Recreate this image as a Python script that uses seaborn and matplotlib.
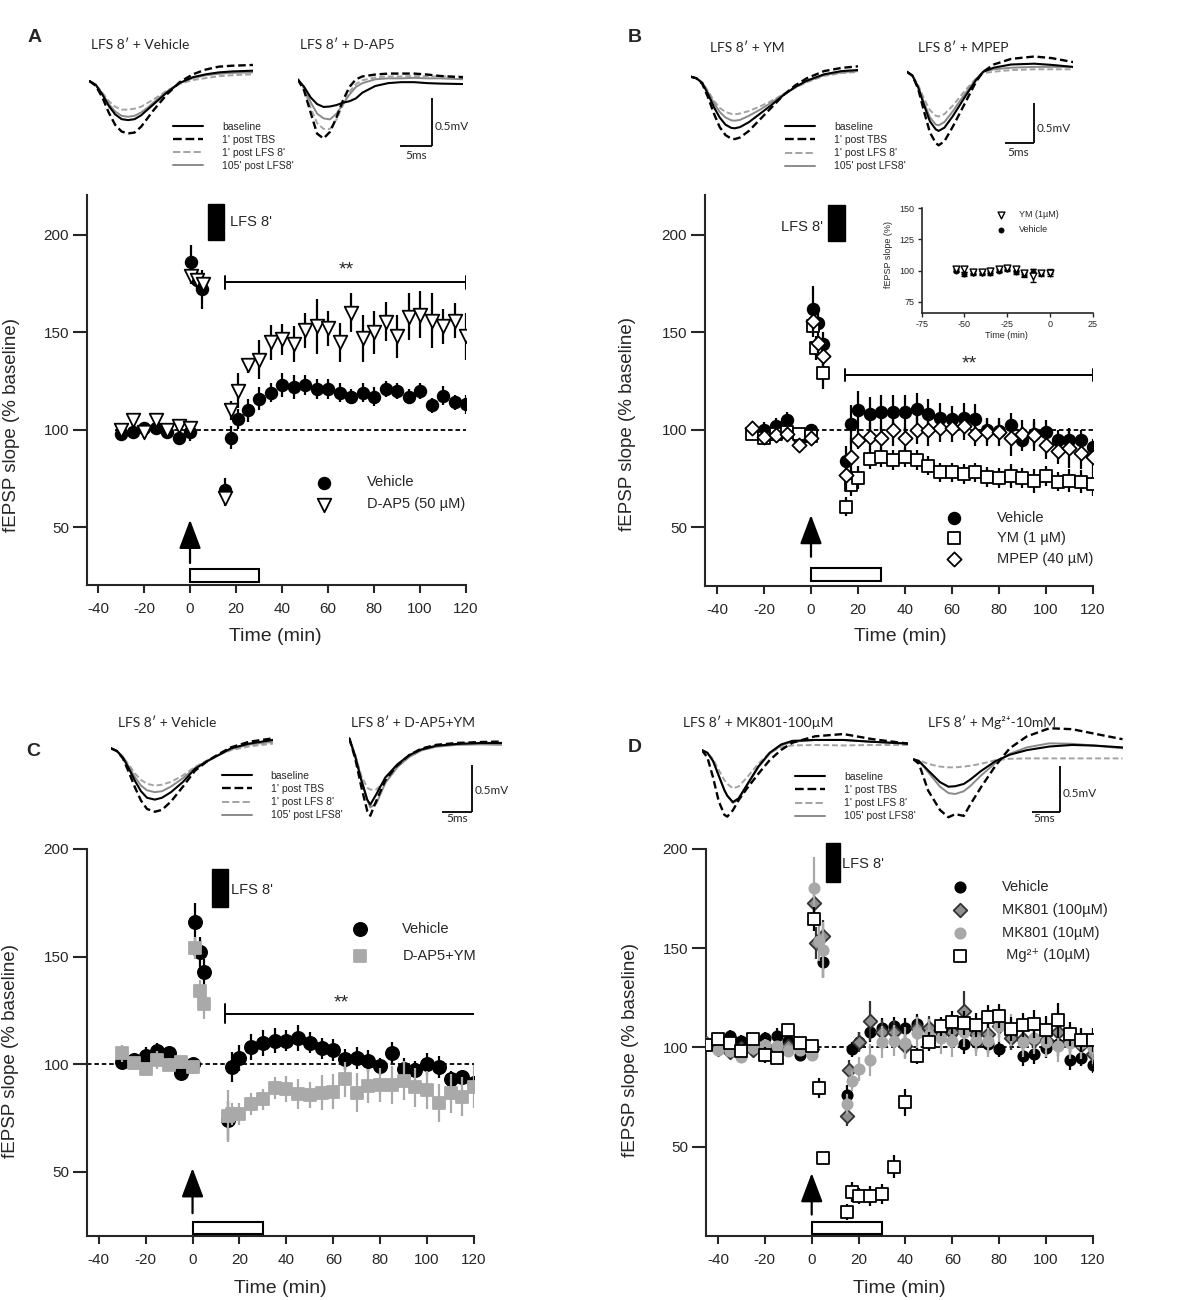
import matplotlib
matplotlib.use('Agg')
import matplotlib.pyplot as plt
import seaborn as sns
from matplotlib.patches import Rectangle
from matplotlib.lines import Line2D
from matplotlib.legend import Legend

# ------------------------------------------------------------------ data
# Panel A
tA_veh = [-30, -25, -20, -15, -10, -5, 0, 0.5, 3, 5, 15, 18, 21, 25, 30, 35, 40, 45, 50, 55, 60,
          65, 70, 75, 80, 85, 90, 95, 100, 105, 110, 115, 120]
yA_veh = [98, 99, 101, 101, 99, 96, 99, 186, 177, 172, 69, 96, 105.5, 110, 116, 119, 123, 122, 123,
          121, 121, 119, 117, 119, 117, 121, 120, 117, 120, 112.5, 117.5, 114, 113]
eA_veh = [3, 4, 3, 3, 4, 3, 5, 9, 5, 10, 6, 6, 5, 6, 6, 5, 6, 6, 5, 5, 5, 5, 4, 5, 5, 4, 4, 4, 4, 4, 5, 4, 5]
tA_ap5 = [-30, -25, -20, -15, -10, -5, 0, 0.5, 3, 5.5, 15, 18, 21, 25, 30, 35, 40, 45, 50, 55, 60,
          65, 70, 75, 80, 85, 90, 95, 100, 105, 110, 115, 120]
yA_ap5 = [100, 105, 99, 105, 100, 102, 101, 179, 177, 175, 65, 110, 120, 133, 136, 145, 146.5, 144,
          151, 153, 152, 145, 160, 147, 150, 155.5, 148, 158, 159, 156, 153, 156, 148]
eA_ap5 = [2, 3, 3, 2, 3, 3, 3, 4, 4, 4, 4, 5, 9, 4, 10, 9, 8, 9, 9, 14, 9, 10, 10, 12, 11, 10, 11, 12,
          12, 14, 9, 9, 12]

# Panel B
tB = [-25, -20, -15, -10, -5, 0, 1, 3, 5, 15, 17, 20, 25, 30, 35, 40, 45, 50, 55, 60, 65, 70, 75,
      80, 85, 90, 95, 100, 105, 110, 115, 120]
yB_veh = [99, 100, 102, 105, 96, 100, 162, 155, 144, 84, 103, 110, 108, 109, 109, 109, 111, 108, 106,
          105.5, 106, 105.5, 100, 99.7, 102.6, 95, 98, 99, 95, 95, 95, 91.5]
eB_veh = [4, 4, 4, 4, 4, 3, 12, 6, 6, 8, 10, 10, 9, 9, 9, 9, 8, 8, 8, 7, 8, 8, 6, 5, 6, 6, 6, 6, 5, 6, 5, 4]
tB_ym = [-25, -20, -15, -10, -5, 0, 1, 2, 5, 15, 17, 20, 25, 30, 35, 40, 45, 50, 55, 60, 65, 70, 75,
         80, 85, 90, 95, 100, 105, 110, 115, 120]
yB_ym = [98, 96, 98, 99, 98, 97, 153.5, 142, 129, 60.7, 72, 75.5, 85, 86, 84.6, 86, 84.6, 81.7, 78.3,
         78.3, 77.4, 78.3, 76, 75.5, 76.4, 75.5, 73.8, 76.4, 73.5, 74, 73.5, 72.3]
eB_ym = [3, 3, 3, 3, 3, 3, 6, 6, 8, 5, 6, 6, 5, 5, 5, 5, 5, 5, 5, 5, 5, 5, 5, 5, 6, 5, 6, 5, 5, 6, 6, 6]
yB_mpep = [101, 96.6, 97.4, 98, 92.3, 96, 156, 144.4, 138, 77, 86, 95, 96.6, 95.7, 100, 95.7, 100, 100,
           101, 101, 102, 98, 99, 99, 95.7, 98, 97.4, 92.3, 89.4, 90.6, 88, 86]
eB_mpep = [3, 3, 3, 3, 3, 3, 5, 5, 5, 8, 10, 5, 7, 6, 8, 6, 7, 8, 7, 7, 7, 6, 7, 7, 9, 7, 8, 7, 7, 10, 8, 8]
# Panel B inset
tIn = [-55, -50, -45, -40, -35, -30, -25, -20, -15, -10, -5, 0]
yIn_ym = [101, 101, 99, 99, 100, 101, 102, 101, 98, 96, 98, 98]
eIn_ym = [1.5, 2, 1.5, 1.5, 2, 2, 1.5, 1.5, 2, 5, 2, 2]
yIn_veh = [100, 97.5, 98, 98, 98, 100, 101, 99, 97, 99, 98, 99]
eIn_veh = [1.5, 1.5, 1.5, 1.5, 1.5, 1.5, 1.5, 1.5, 2, 2, 1.5, 2]

# Panel C
tC = [-30, -25, -20, -15, -10, -5, 0, 1, 3, 5, 15, 17, 20, 25, 30, 35, 40, 45, 50, 55, 60, 65, 70,
      75, 80, 85, 90, 95, 100, 105, 110, 115, 120]
yC_veh = [101, 102, 104, 106, 105.4, 96, 100, 166, 152, 143, 74, 98.6, 103, 108, 110, 111, 111, 112,
          110, 107.4, 106.7, 102.3, 102.8, 101.5, 99, 105.4, 98, 97.4, 100, 98.6, 93, 94.3, 91.2]
eC_veh = [3, 3, 4, 4, 3, 2, 2, 9, 7, 6, 9, 7, 6, 6, 6, 6, 5, 6, 5, 5, 5, 5, 5, 5, 4, 5, 5, 4, 5, 5, 4, 3, 3]
yC_ap5ym = [105, 100.5, 97.7, 102, 99.7, 101, 98.6, 154, 134, 128, 76, 77, 77, 81.6, 83.7, 88.9, 88.4,
            86, 85.8, 86.8, 87.3, 93, 86.8, 90, 90.4, 90.4, 92.4, 89.2, 88, 82, 86.5, 85, 89.6]
eC_ap5ym = [4, 3, 3, 4, 3, 3, 3, 5, 5, 7, 12, 5, 5, 5, 5, 5, 6, 7, 6, 8, 8, 8, 9, 8, 8, 9, 9, 9, 9, 9,
            9, 9, 10]

# Panel D
tD_veh = [-45, -40, -35, -30, -25, -20, -15, -10, -5, 0, 5, 15, 17, 20, 25, 30, 35, 40, 45, 50, 55,
          60, 65, 70, 75, 80, 85, 90, 95, 100, 105, 110, 115, 120]
yD_veh = [101, 103, 106, 103.5, 104, 105, 106, 103.5, 96, 100.8, 143, 76, 99, 103, 108, 110, 110.6,
          110, 112, 109, 108, 107.7, 101.7, 102.7, 101.7, 99.3, 106.4, 95.5, 96.8, 99.7, 101.7, 93.5,
          94.6, 91.3]
eD_veh = [2, 3, 3, 3, 3, 3, 4, 3, 3, 3, 8, 5, 4, 5, 5, 5, 5, 5, 5, 5, 5, 5, 5, 5, 5, 4, 4, 5, 5, 5, 6,
          5, 4, 4]
tD_mk100 = [-45, -40, -35, -30, -25, -20, -15, -10, -5, 0, 1, 2, 5, 15, 16, 20, 25, 30, 35, 40, 45,
            50, 55, 60, 65, 70, 75, 80, 85, 90, 95, 100, 105, 110, 115, 120]
yD_mk100 = [102, 99, 97.5, 99.7, 98.5, 100.5, 99.7, 100.5, 100.5, 99.3, 172.6, 152.5, 156, 65.3, 88.8,
            102.7, 113.4, 107.7, 108, 100.5, 109.7, 110, 108.4, 107.7, 118.5, 107, 107, 110.6, 104.7,
            104.2, 103.9, 103.9, 108, 103.9, 101.3, 96.8]
eD_mk100 = [2, 3, 3, 3, 3, 3, 3, 3, 3, 3, 8, 8, 8, 5, 5, 5, 10, 6, 6, 6, 6, 6, 6, 6, 10, 6, 6, 6, 6, 6,
            6, 6, 6, 6, 6, 6]
tD_mk10 = [-45, -40, -35, -30, -25, -20, -15, -10, -5, 0, 1, 3, 5, 15, 17, 20, 25, 30, 35, 40, 45, 50,
           55, 60, 65, 70, 75, 80, 85, 90, 95, 100, 105, 110, 115, 120]
yD_mk10 = [102, 98.5, 98, 95, 99.7, 101.3, 100.5, 98, 98.8, 96, 180.2, 153.4, 149, 71.6, 83, 89, 93.8,
           102.7, 103.5, 102.2, 107.2, 106.4, 104.7, 103.4, 108, 103.9, 103.4, 110.6, 108.9, 103,
           104.7, 103, 100.5, 102, 102, 99.7]
eD_mk10 = [2, 3, 3, 3, 3, 3, 3, 3, 3, 3, 16, 10, 14, 5, 5, 6, 8, 8, 8, 8, 8, 8, 8, 8, 8, 8, 8, 8, 8, 8,
           8, 8, 8, 8, 8, 8]
tD_mg = [-45, -40, -35, -30, -25, -20, -15, -10, -5, 0, 1, 3, 5, 15, 17, 20, 25, 30, 35, 40, 45, 50,
         55, 60, 65, 70, 75, 80, 85, 90, 95, 100, 105, 110, 115, 120]
yD_mg = [101.3, 104.4, 102.2, 98, 104.2, 96.3, 94.6, 108.9, 102.5, 100.5, 164.6, 79.5, 44.3, 17, 27,
         25, 25.3, 26.2, 40, 72.3, 95.5, 103, 110.6, 112.6, 112.2, 111.4, 115.6, 116, 109.2, 111.4,
         112, 108.9, 113.6, 106.9, 103.9, 103.9]
eD_mg = [2, 3, 3, 3, 3, 4, 3, 3, 3, 3, 6, 5, 3, 4, 5, 4, 5, 5, 6, 7, 4, 5, 5, 6, 6, 6, 6, 6, 6, 6, 7,
         7, 9, 6, 6, 6]

# Example fEPSP traces (ms, mV relative to start); order: baseline, 1' TBS, 1' LFS, 105' LFS
trace_labels = ["baseline", "1' post TBS", "1' post LFS 8'", "105' post LFS8'"]
tr_A1_t = [0, 1, 2, 3, 4, 5, 6, 7, 8, 9, 10, 12, 14, 16, 18, 20, 22, 25.3]
tr_A1 = [[0, -0.04, -0.14, -0.26, -0.35, -0.40, -0.41, -0.40, -0.36, -0.30, -0.24, -0.12, -0.02, 0.04, 0.07, 0.09, 0.10, 0.108],
         [0, -0.05, -0.17, -0.33, -0.46, -0.53, -0.55, -0.54, -0.48, -0.39, -0.30, -0.14, -0.01, 0.07, 0.12, 0.15, 0.16, 0.168],
         [0, -0.04, -0.12, -0.21, -0.27, -0.30, -0.30, -0.29, -0.27, -0.23, -0.19, -0.10, -0.03, 0.01, 0.03, 0.05, 0.06, 0.07],
         [0, -0.04, -0.13, -0.24, -0.32, -0.365, -0.375, -0.365, -0.33, -0.28, -0.22, -0.11, -0.02, 0.03, 0.06, 0.075, 0.085, 0.09]]
tr_A2_t = [0, 1, 2, 3, 4, 5, 6, 7, 8, 9, 10, 12, 14, 16, 18, 20, 22, 25.6]
tr_A2 = [[0, -0.08, -0.19, -0.26, -0.29, -0.285, -0.27, -0.245, -0.23, -0.2, -0.14, -0.07, -0.04, -0.03, -0.03, -0.04, -0.045, -0.05],
         [0, -0.12, -0.35, -0.57, -0.62, -0.55, -0.40, -0.22, -0.08, 0.0, 0.03, 0.05, 0.06, 0.06, 0.06, 0.05, 0.035, 0.02],
         [0, -0.1, -0.3, -0.46, -0.52, -0.52, -0.42, -0.27, -0.13, -0.05, -0.01, 0.02, 0.03, 0.03, 0.035, 0.03, 0.03, 0.03],
         [0, -0.09, -0.24, -0.36, -0.41, -0.42, -0.36, -0.26, -0.16, -0.08, -0.04, 0.0, 0.01, 0.01, 0.015, 0.01, 0.01, 0.0]]
tr_B1_t = [0, 1, 2, 3, 4, 5, 6, 7, 7.6, 8.5, 10, 12, 14, 16, 18, 20, 23, 26, 28.9]
tr_B1 = [[0, -0.02, -0.08, -0.22, -0.38, -0.51, -0.60, -0.64, -0.645, -0.63, -0.57, -0.46, -0.35, -0.23, -0.13, -0.05, 0.03, 0.07, 0.084],
         [0, -0.02, -0.09, -0.26, -0.46, -0.63, -0.73, -0.775, -0.78, -0.76, -0.68, -0.53, -0.38, -0.23, -0.11, -0.02, 0.07, 0.11, 0.13],
         [0, -0.02, -0.07, -0.18, -0.30, -0.39, -0.44, -0.465, -0.47, -0.46, -0.43, -0.37, -0.30, -0.22, -0.14, -0.07, 0.01, 0.045, 0.06],
         [0, -0.02, -0.075, -0.2, -0.33, -0.44, -0.51, -0.545, -0.55, -0.54, -0.49, -0.41, -0.32, -0.22, -0.13, -0.06, 0.02, 0.055, 0.07]]
tr_B2_t = [0, 1, 2, 3, 4, 5, 5.5, 6.5, 8, 10, 12, 13.2, 15, 18, 22, 25, 28.7]
tr_B2 = [[0, -0.05, -0.2, -0.42, -0.62, -0.72, -0.74, -0.70, -0.55, -0.32, -0.1, 0.0, 0.05, 0.09, 0.10, 0.085, 0.06],
         [0, -0.05, -0.22, -0.5, -0.76, -0.89, -0.92, -0.87, -0.68, -0.40, -0.12, 0.0, 0.09, 0.16, 0.19, 0.17, 0.12],
         [0, -0.05, -0.17, -0.34, -0.48, -0.55, -0.56, -0.53, -0.42, -0.24, -0.08, -0.02, 0.0, 0.02, 0.03, 0.03, 0.03],
         [0, -0.05, -0.19, -0.39, -0.57, -0.66, -0.67, -0.63, -0.49, -0.28, -0.09, 0.0, 0.03, 0.05, 0.06, 0.06, 0.06]]
tr_C1_t = [0, 1, 2, 3, 4, 5, 6, 7.3, 8.5, 10, 12, 14, 16, 18, 20, 23, 27]
tr_C1 = [[0, -0.03, -0.1, -0.22, -0.35, -0.46, -0.53, -0.55, -0.53, -0.47, -0.36, -0.22, -0.14, -0.07, 0.0, 0.05, 0.09],
         [0, -0.03, -0.11, -0.26, -0.42, -0.56, -0.65, -0.68, -0.66, -0.57, -0.41, -0.24, -0.14, -0.06, 0.01, 0.07, 0.107],
         [0, -0.03, -0.09, -0.18, -0.27, -0.34, -0.38, -0.40, -0.39, -0.36, -0.29, -0.2, -0.13, -0.07, -0.02, 0.02, 0.05],
         [0, -0.03, -0.095, -0.2, -0.31, -0.4, -0.45, -0.47, -0.46, -0.41, -0.32, -0.21, -0.135, -0.07, -0.01, 0.04, 0.07]]
tr_C2_t = [0, 1, 2, 3, 3.5, 4.5, 6, 8, 10, 12, 14.5, 18, 22, 25.4]
tr_C2 = [[0, -0.2, -0.45, -0.66, -0.71, -0.6, -0.42, -0.28, -0.18, -0.12, -0.08, -0.06, -0.05, -0.05],
         [0, -0.22, -0.52, -0.78, -0.83, -0.67, -0.45, -0.29, -0.18, -0.11, -0.07, -0.05, -0.04, -0.035],
         [0, -0.18, -0.4, -0.53, -0.55, -0.55, -0.45, -0.3, -0.19, -0.12, -0.08, -0.06, -0.055, -0.05],
         [0, -0.18, -0.43, -0.66, -0.74, -0.70, -0.48, -0.31, -0.2, -0.13, -0.09, -0.07, -0.065, -0.07]]
tr_D1_t = [0, 1, 2, 3, 4, 4.5, 5.5, 6.5, 8, 10, 12, 14, 16, 20, 25, 30, 36.4]
tr_D1 = [[0, -0.03, -0.12, -0.28, -0.44, -0.5, -0.57, -0.53, -0.38, -0.18, -0.03, 0.06, 0.1, 0.11, 0.11, 0.09, 0.07],
         [0, -0.08, -0.3, -0.56, -0.71, -0.73, -0.66, -0.55, -0.42, -0.26, -0.11, 0.0, 0.08, 0.15, 0.175, 0.12, 0.07],
         [0, -0.03, -0.1, -0.22, -0.33, -0.37, -0.42, -0.4, -0.3, -0.15, -0.03, 0.03, 0.05, 0.055, 0.05, 0.055, 0.055],
         [0, -0.03, -0.12, -0.28, -0.44, -0.5, -0.58, -0.54, -0.39, -0.19, -0.04, 0.05, 0.09, 0.11, 0.11, 0.09, 0.07]]
tr_D2_t = [0, 1, 2.6, 4.7, 6.2, 7.4, 8.9, 10.1, 11.9, 14.5, 17, 20, 24, 28, 32, 36.9]
tr_D2 = [[0, -0.02, -0.12, -0.25, -0.30, -0.295, -0.27, -0.22, -0.13, -0.02, 0.05, 0.1, 0.14, 0.157, 0.15, 0.13],
         [0, -0.05, -0.34, -0.555, -0.635, -0.6, -0.62, -0.49, -0.31, -0.07, 0.12, 0.25, 0.34, 0.33, 0.28, 0.22],
         [0, -0.01, -0.05, -0.08, -0.088, -0.088, -0.08, -0.07, -0.05, -0.01, 0.005, 0.01, 0.01, 0.01, 0.01, 0.01],
         [0, -0.02, -0.14, -0.3, -0.37, -0.38, -0.35, -0.29, -0.18, -0.04, 0.06, 0.13, 0.175, 0.17, 0.15, 0.12]]

# ------------------------------------------------------------------ style
sns.set_theme(style='ticks')
plt.rcParams['font.family'] = ['Liberation Sans', 'DejaVu Sans']
plt.rcParams['axes.unicode_minus'] = False
TITLE_FAM = ['Lato', 'Liberation Sans', 'DejaVu Sans']
NARROW_FAM = ['Liberation Sans Narrow', 'Liberation Sans', 'DejaVu Sans']

W, H = 1182, 1300
fig = plt.figure(figsize=(W / 100, H / 100), dpi=100)
fig.patch.set_facecolor('white')


def px_axes(l, t, r, b):
    return fig.add_axes([l / W, 1 - b / H, (r - l) / W, (b - t) / H])


ax0 = px_axes(0, 0, W, H)
ax0.set_xlim(0, W)
ax0.set_ylim(H, 0)
ax0.set_axis_off()

TR_STY = [dict(color='black', lw=1.5, ls='-', zorder=4),
          dict(color='black', lw=1.7, ls=(0, (3.2, 1.6)), zorder=5),
          dict(color='#a3a3a3', lw=1.4, ls=(0, (3, 1.5)), zorder=2),
          dict(color='#8a8a8a', lw=1.4, ls='-', zorder=3)]


def trace_axes(x0, y0, pms, pmv, tt, curves):
    dur = tt[-1]
    ax = px_axes(x0, y0 - 0.6 * pmv, x0 + dur * pms, y0 + 1.1 * pmv)
    ax.set_xlim(0, dur)
    ax.set_ylim(-1.1, 0.6)
    ax.set_axis_off()
    lines = []
    for vals, st in zip(curves, TR_STY):
        ln, = ax.plot(tt, vals, solid_capstyle='round', **st)
        lines.append(ln)
    return lines


def trace_legend(lines, x, y):
    handles = [Line2D([], [], color=l.get_color(), lw=l.get_linewidth(), ls=l.get_linestyle()) for l in lines]
    leg = Legend(ax0, handles, trace_labels, loc='upper left', bbox_to_anchor=(x, y),
                 bbox_transform=ax0.transData, frameon=False, handlelength=2.9,
                 handletextpad=1.8, labelspacing=0.3, borderpad=0, borderaxespad=0,
                 prop=dict(family=NARROW_FAM, size=7.5))
    ax0.add_artist(leg)


def scale_bar(xv, yb, pms, pmv, tx_mv, ty_mv, tx_ms, ty_ms):
    ax0.plot([xv, xv], [yb - 0.5 * pmv, yb], color='black', lw=1.3, solid_capstyle='butt')
    ax0.plot([xv - 5 * pms, xv], [yb, yb], color='black', lw=1.3, solid_capstyle='butt')
    ax0.text(tx_mv, ty_mv, '0.5mV', ha='left', va='center', fontsize=8.5, family=TITLE_FAM)
    ax0.text(tx_ms, ty_ms, '5ms', ha='center', va='center', fontsize=8.5, family=TITLE_FAM)


def title(x, y, s):
    ax0.text(x, y, s, ha='center', va='center', fontsize=10, family=TITLE_FAM)


def letter(x, y, s):
    ax0.text(x, y, s, ha='center', va='center', fontsize=14, fontweight='bold')


# ---- traces
lA = trace_axes(89.3, 81, 6.47, 95.4, tr_A1_t, tr_A1)
trace_axes(297.7, 79.3, 6.47, 95.4, tr_A2_t, tr_A2)
trace_legend(lA, 173, 121.5)
scale_bar(432.3, 146, 6.47, 95.4, 435, 127, 416.5, 155.5)
title(140, 45, 'LFS 8\u2032 + Vehicle'); title(347, 45, 'LFS 8\u2032 + D-AP5'); letter(35, 38, 'A')

lB = trace_axes(690.7, 76.7, 5.8, 80, tr_B1_t, tr_B1)
trace_axes(906.7, 71.7, 5.8, 80, tr_B2_t, tr_B2)
trace_legend(lB, 785, 122)
scale_bar(1034, 143.3, 5.8, 80, 1037, 128.5, 1018.5, 153)
title(747, 48, 'LFS 8\u2032 + YM'); title(963, 48, 'LFS 8\u2032 + MPEP'); letter(635, 38, 'B')

lC = trace_axes(111, 748.3, 6.0, 93.3, tr_C1_t, tr_C1)
trace_axes(349.3, 738.3, 6.0, 93.3, tr_C2_t, tr_C2)
trace_legend(lC, 221.7, 771)
scale_bar(471.7, 811.7, 6.0, 93.3, 475, 790, 457, 818.5)
title(167, 723, 'LFS 8\u2032 + Vehicle'); title(413, 723, 'LFS 8\u2032 + D-AP5+YM'); letter(33, 752, 'C')

lD = trace_axes(701.7, 750, 5.67, 91.3, tr_D1_t, tr_D1)
trace_axes(913.3, 759.3, 5.67, 91.3, tr_D2_t, tr_D2)
trace_legend(lD, 795, 772)
scale_bar(1060, 811.7, 5.67, 91.3, 1063, 793.5, 1044, 818.5)
title(758, 722, 'LFS 8\u2032 + MK801-100\u00b5M'); title(992, 722, 'LFS 8\u2032 + Mg\u00b2\u207a-10mM'); letter(635, 747, 'D')


# ------------------------------------------------------------------ main panels
def main_axes(box, xlim, ylim):
    ax = px_axes(*box)
    ax.set_xlim(*xlim)
    ax.set_ylim(*ylim)
    ax.set_xticks(range(-40, 121, 20))
    ax.set_yticks([50, 100, 150, 200])
    sns.despine(ax=ax)
    for s in ['left', 'bottom']:
        ax.spines[s].set_linewidth(1.5)
    ax.tick_params(axis='x', length=6, width=1.5, pad=6, labelsize=11)
    ax.tick_params(axis='y', length=10, width=1.5, pad=3, labelsize=11)
    ax.set_facecolor('none')
    ax.set_xlabel('Time (min)', fontsize=14)
    ax.set_ylabel('fEPSP slope (% baseline)', fontsize=13.5)
    return ax


def series(ax, t, y, e, marker, s, face, edge, ecolor, z, lw=1.3):
    ax.errorbar(t, y, yerr=e, fmt='none', ecolor=ecolor, elinewidth=1.6, capsize=0, zorder=z)
    sns.scatterplot(x=t, y=y, ax=ax, marker=marker, s=s, color=face, edgecolor=edge,
                    linewidth=lw, zorder=z + 0.5, legend=False)
    coll = ax.collections[-1]
    coll.set_facecolor(face)
    coll.set_edgecolor(edge)
    return coll


def decorate(ax, lfs, lfs_text, arrow, box, dash_from, sig=None):
    bx, by, bw, bh = lfs
    ax.add_patch(Rectangle((bx, by), bw, bh, facecolor='black', edgecolor='black', clip_on=False, zorder=6))
    tx, ty, ha = lfs_text
    ax.text(tx, ty, "LFS 8'", ha=ha, va='center', fontsize=10.5, zorder=6)
    ab, at = arrow
    ax.annotate('', xy=(0, at), xytext=(0, ab),
                arrowprops=dict(arrowstyle='-|>,head_length=0.9,head_width=0.34', mutation_scale=20,
                                color='black', lw=1.6, shrinkA=0, shrinkB=0), zorder=6)
    ry, rh = box
    ax.add_patch(Rectangle((0, ry), 30, rh, facecolor='white', edgecolor='black', lw=1.5, zorder=6))
    ax.plot([dash_from, 120], [100, 100], color='black', lw=1.3, ls=(0, (2.5, 1.6)), zorder=1)
    if sig is not None:
        x1, x2, ys, hh, sx, sy = sig
        ax.plot([x1, x2], [ys, ys], color='black', lw=1.4, zorder=6)
        ax.plot([x1, x1], [ys - hh, ys + hh], color='black', lw=1.4, zorder=6)
        ax.plot([x2, x2], [ys - hh, ys + hh], color='black', lw=1.4, zorder=6)
        ax.text(sx, sy, '**', ha='center', va='center', fontsize=14, zorder=6)


def main_legend(ax, handles, labels, x, y, spacing):
    ax.legend(handles, labels, loc='center left', bbox_to_anchor=(x, y), bbox_transform=ax.transData,
              frameon=False, fontsize=10.5, handlelength=1.0, handletextpad=2.4,
              labelspacing=spacing, borderpad=0, borderaxespad=0, scatterpoints=1)


# ---- Panel A
axA = main_axes((87, 195, 466, 585), (-44.8, 120), (20.3, 220.5))
cA1 = series(axA, tA_veh, yA_veh, eA_veh, 'o', 70, 'black', 'black', 'black', 2)
cA2 = series(axA, tA_ap5, yA_ap5, eA_ap5, 'v', 95, 'white', 'black', 'black', 4)
decorate(axA, (7.7, 197.4, 7.2, 18.5), (17.2, 206.5, 'left'), (31.6, 53.8), (21.9, 6.6), -32.5,
         sig=(15, 120, 175.6, 3.4, 68, 182))
main_legend(axA, [cA1, cA2], ['Vehicle', 'D-AP5 (50 \u00b5M)'], 55.2, 67.3, 0.55)
axA.yaxis.set_label_coords(-0.178, 0.41)
axA.xaxis.set_label_coords(0.496, -0.11)

# ---- Panel B
axB = main_axes((705, 195, 1093, 586), (-45.1, 120), (20, 220.5))
cB1 = series(axB, tB, yB_veh, eB_veh, 'o', 70, 'black', 'black', 'black', 2)
cB2 = series(axB, tB_ym, yB_ym, eB_ym, 's', 72, 'white', 'black', 'black', 4)
cB3 = series(axB, tB, yB_mpep, eB_mpep, 'D', 52, 'white', 'black', 'black', 6)
decorate(axB, (7.2, 197, 7.1, 18.4), (5, 204, 'right'), (35, 56.4), (22.6, 6.5), -27,
         sig=(14.6, 120, 128.2, 3.2, 67.5, 134))
main_legend(axB, [cB1, cB2, cB3], ['Vehicle', 'YM (1 \u00b5M)', 'MPEP (40 \u00b5M)'], 57.9, 44.5, 0.46)
axB.yaxis.set_label_coords(-0.177, 0.415)
axB.xaxis.set_label_coords(0.503, -0.108)

# inset
axI = px_axes(921.7, 208.3, 1092.7, 313.3)
axI.set_xlim(-75, 25)
axI.set_ylim(65.7, 150)
axI.set_xticks([-75, -50, -25, 0, 25])
axI.set_yticks([75, 100, 125, 150])
sns.despine(ax=axI)
for s in ['left', 'bottom']:
    axI.spines[s].set_linewidth(1.2)
axI.tick_params(axis='both', length=3, width=1.0, pad=2, labelsize=6.5)
axI.set_facecolor('none')
axI.errorbar(tIn, yIn_veh, yerr=eIn_veh, fmt='none', ecolor='black', elinewidth=1.0, capsize=2, zorder=2)
sns.scatterplot(x=tIn, y=yIn_veh, ax=axI, marker='o', s=14, color='black', edgecolor='black',
                linewidth=0.5, zorder=3, legend=False)
cI1 = axI.collections[-1]
axI.errorbar(tIn, yIn_ym, yerr=eIn_ym, fmt='none', ecolor='black', elinewidth=1.0, capsize=2, zorder=4)
sns.scatterplot(x=tIn, y=yIn_ym, ax=axI, marker='v', s=24, color='white', edgecolor='black',
                linewidth=1.0, zorder=5, legend=False)
cI2 = axI.collections[-1]
cI2.set_facecolor('white')
axI.legend([cI2, cI1], ['YM (1\u00b5M)', 'Vehicle'], loc='center left', bbox_to_anchor=(-31.5, 139),
           bbox_transform=axI.transData, frameon=False, fontsize=6.5, handlelength=1.0,
           handletextpad=1.5, labelspacing=0.65, borderpad=0, borderaxespad=0, scatterpoints=1)
axI.set_xlabel('Time (min)', fontsize=6.5)
axI.set_ylabel('fEPSP slope (%)', fontsize=6.5)
axI.yaxis.set_label_coords(-0.17, 0.56)
axI.xaxis.set_label_coords(0.497, -0.17)

# ---- Panel C
axC = main_axes((87, 849, 474, 1236), (-45, 120), (20.2, 200))
cC1 = series(axC, tC, yC_veh, eC_veh, 'o', 90, 'black', 'black', 'black', 2)
cC2 = series(axC, tC, yC_ap5ym, eC_ap5ym, 's', 72, '#a9a9a9', '#a9a9a9', '#a9a9a9', 4)
decorate(axC, (8.2, 172.9, 6.8, 17.8), (16.2, 181, 'left'), (30.8, 51.7), (21.2, 5.4), -45,
         sig=(14, 121.5, 123.4, 4.4, 63.6, 128.5))
main_legend(axC, [cC1, cC2], ['Vehicle', 'D-AP5+YM'], 68.3, 156.6, 0.84)
axC.yaxis.set_label_coords(-0.175, 0.477)
axC.xaxis.set_label_coords(0.5, -0.114)

# ---- Panel D
axD = main_axes((706, 849, 1093, 1236), (-45.1, 120), (5, 200))
cD1 = series(axD, tD_veh, yD_veh, eD_veh, 'o', 55, 'black', 'black', 'black', 2)
cD2 = series(axD, tD_mk100, yD_mk100, eD_mk100, 'D', 48, '#8f8f8f', '#333333', '#333333', 4)
cD3 = series(axD, tD_mk10, yD_mk10, eD_mk10, 'o', 55, '#a8a8a8', '#a8a8a8', '#a8a8a8', 6)
cD4 = series(axD, tD_mg, yD_mg, eD_mg, 's', 72, 'white', 'black', 'black', 8)
decorate(axD, (6, 183.5, 6, 19.3), (13, 192.5, 'left'), (15.8, 36.7), (6.2, 5.9), -45)
main_legend(axD, [cD1, cD2, cD3, cD4],
            ['Vehicle', 'MK801 (100\u00b5M)', 'MK801 (10\u00b5M)', ' Mg\u00b2\u207a (10\u00b5M)'],
            60, 163.6, 0.6)
axD.yaxis.set_label_coords(-0.172, 0.48)
axD.xaxis.set_label_coords(0.5, -0.114)

fig.savefig('out.png', dpi=100, facecolor='white')
